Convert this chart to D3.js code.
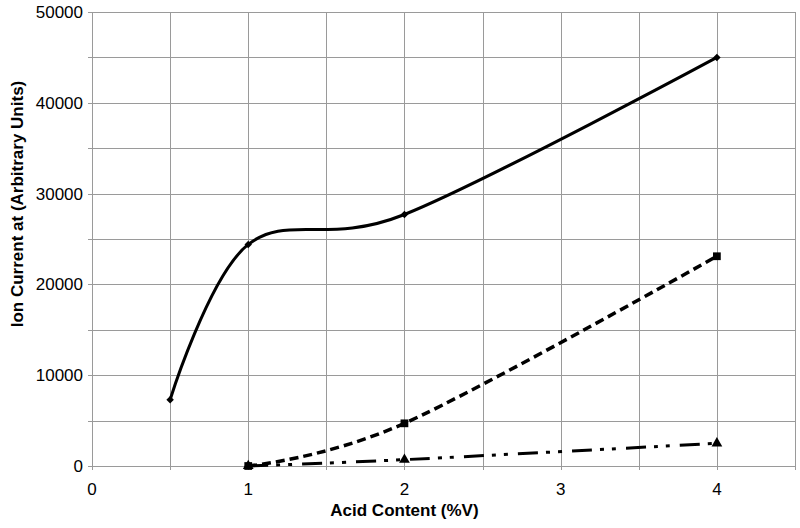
<!DOCTYPE html>
<html>
<head>
<meta charset="utf-8">
<script src="https://cdn.jsdelivr.net/npm/d3@7"></script>
<style>
  body { margin: 0; background: #fff; }
  text { font-family: "Liberation Sans", Arial, sans-serif; fill: #000; }
  .tick-label { font-size: 17px; }
  .axis-title { font-size: 17px; font-weight: bold; }
</style>
</head>
<body>
<div id="chart"></div>
<script>
// Chart data
var acidA = [0.5, 1, 2, 4];
var currentA = [7300, 24400, 27700, 45000];
var acidB = [1, 2, 4];
var currentB = [0, 4700, 23100];
var acidC = [1, 2, 4];
var currentC = [0, 700, 2500];

var xTicks = [0, 1, 2, 3, 4];
var yTicks = [0, 10000, 20000, 30000, 40000, 50000];
var xGrid = d3.range(0, 4.51, 0.5);
var yGrid = d3.range(0, 50001, 5000);

var svgWidth = 800, svgHeight = 528;
var margin = { t: 12, r: 5, b: 62, l: 92 };
var chartWidth = 795 - margin.l;
var chartHeight = 466 - margin.t;

var svg = d3.select("#chart").append("svg")
    .attr("width", svgWidth)
    .attr("height", svgHeight);

var chart = svg.append("g")
    .attr("transform", `translate(${margin.l} ${margin.t})`);

var xScale = d3.scaleLinear().domain([0, 4.5]).range([0, chartWidth]);
var yScale = d3.scaleLinear().domain([0, 50000]).range([chartHeight, 0]);

// Gridlines (with small outward ticks)
chart.append("g").selectAll("line")
    .data(xGrid).enter().append("line")
    .attr("x1", d => Math.round(xScale(d)) + 0.5)
    .attr("x2", d => Math.round(xScale(d)) + 0.5)
    .attr("y1", 0)
    .attr("y2", chartHeight + 4)
    .attr("stroke", "#9a9a9a")
    .attr("stroke-width", 1);

chart.append("g").selectAll("line")
    .data(yGrid).enter().append("line")
    .attr("x1", -4)
    .attr("x2", chartWidth)
    .attr("y1", d => Math.round(yScale(d)) + 0.5)
    .attr("y2", d => Math.round(yScale(d)) + 0.5)
    .attr("stroke", "#9a9a9a")
    .attr("stroke-width", 1);

// Tick labels
chart.append("g").selectAll("text")
    .data(xTicks).enter().append("text")
    .attr("class", "tick-label")
    .attr("x", d => xScale(d))
    .attr("y", chartHeight + 29)
    .attr("text-anchor", "middle")
    .text(d => d);

chart.append("g").selectAll("text")
    .data(yTicks).enter().append("text")
    .attr("class", "tick-label")
    .attr("x", -9)
    .attr("y", d => yScale(d) + 6)
    .attr("text-anchor", "end")
    .text(d => d);

// Axis titles
svg.append("text")
    .attr("class", "axis-title")
    .attr("x", margin.l + xScale(2))
    .attr("y", 516)
    .attr("text-anchor", "middle")
    .text("Acid Content (%V)");

svg.append("text")
    .attr("class", "axis-title")
    .attr("transform", "translate(23 204) rotate(-90)")
    .attr("text-anchor", "middle")
    .text("Ion Current at (Arbitrary Units)");

// Series lines (smoothed)
var line = d3.line()
    .x(d => xScale(d[0]))
    .y(d => yScale(d[1]))
    .curve(d3.curveCardinal.tension(0));

var seriesA = acidA.map((v, i) => [v, currentA[i]]);
var seriesB = acidB.map((v, i) => [v, currentB[i]]);
var seriesC = acidC.map((v, i) => [v, currentC[i]]);

chart.append("path")
    .datum(seriesC)
    .attr("d", line)
    .attr("fill", "none")
    .attr("stroke", "#000")
    .attr("stroke-width", 3)
    .attr("stroke-dasharray", "20,8,4,8,4,10");

chart.append("path")
    .datum(seriesB)
    .attr("d", line)
    .attr("fill", "none")
    .attr("stroke", "#000")
    .attr("stroke-width", 3.5)
    .attr("stroke-dasharray", "9,5");

chart.append("path")
    .datum(seriesA)
    .attr("d", line)
    .attr("fill", "none")
    .attr("stroke", "#000")
    .attr("stroke-width", 3);

// Markers
chart.append("g").selectAll("path")
    .data(seriesC).enter().append("path")
    .attr("transform", d => `translate(${xScale(d[0])} ${yScale(d[1])})`)
    .attr("d", d3.symbol().type(d3.symbolTriangle).size(50))
    .attr("fill", "#000");

chart.append("g").selectAll("path")
    .data(seriesB).enter().append("path")
    .attr("transform", d => `translate(${xScale(d[0])} ${yScale(d[1])})`)
    .attr("d", d3.symbol().type(d3.symbolSquare).size(60))
    .attr("fill", "#000");

chart.append("g").selectAll("path")
    .data(seriesA).enter().append("path")
    .attr("transform", d => `translate(${xScale(d[0])} ${yScale(d[1])}) rotate(45)`)
    .attr("d", d3.symbol().type(d3.symbolSquare).size(28))
    .attr("fill", "#000");
</script>
</body>
</html>
